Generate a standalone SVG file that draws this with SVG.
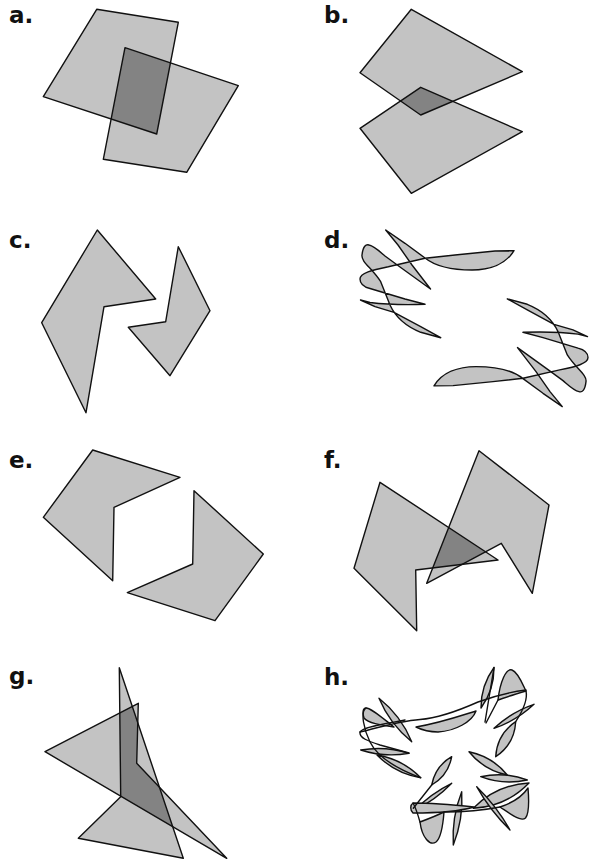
<svg xmlns="http://www.w3.org/2000/svg" xmlns:xlink="http://www.w3.org/1999/xlink" width="589" height="861" viewBox="0 0 589 861">
<style>
.f{fill:#c3c3c3;stroke:none}
.o{fill:#838383;stroke:none}
.n{fill:none;stroke:#111;stroke-width:1.4;stroke-linejoin:round;stroke-linecap:round}
.s{fill:#c3c3c3;stroke:#111;stroke-width:1.4;stroke-linejoin:round}
.l{font-family:"DejaVu Sans","Liberation Sans",sans-serif;font-weight:bold;font-size:23px;fill:#111}
</style>
<defs>
<polygon id="a1" points="96.7,9.3 178.3,22.3 156.7,134 43.3,96.7"/>
<polygon id="a2" points="125,47.7 238.3,85.7 186.7,172.3 103.3,159.3"/>
<polygon id="b1" points="411.3,9.3 522.3,71.7 420.7,115 360,72.7"/>
<polygon id="b2" points="420.7,87.3 522.3,131.7 411.3,193.3 360,128.3"/>
<polygon id="f1" points="380,482.3 498,560 415.7,570 416.7,630.7 354,568.3"/>
<polygon id="f2" points="479,450.7 549,505 532.3,593.3 501.3,543.3 426.7,583.3"/>
<polygon id="g1" points="119.3,667.7 183.3,858.3 78.3,838.3 120.7,796.7"/>
<polygon id="g2" points="138.3,703.3 45,751.7 226.7,858.3 136.7,763.3"/>
<clipPath id="ca"><use xlink:href="#a1"/></clipPath>
<clipPath id="cb"><use xlink:href="#b1"/></clipPath>
<clipPath id="cf"><use xlink:href="#f1"/></clipPath>
<clipPath id="cg"><use xlink:href="#g1"/></clipPath>
</defs>
<rect width="589" height="861" fill="#fff"/>

<g id="panel-a">
<use xlink:href="#a1" class="f"/><use xlink:href="#a2" class="f"/>
<use xlink:href="#a2" class="o" clip-path="url(#ca)"/>
<use xlink:href="#a1" class="n"/><use xlink:href="#a2" class="n"/>
<text class="l" x="9" y="23">a.</text>
</g>

<g id="panel-b">
<use xlink:href="#b1" class="f"/><use xlink:href="#b2" class="f"/>
<use xlink:href="#b2" class="o" clip-path="url(#cb)"/>
<use xlink:href="#b1" class="n"/><use xlink:href="#b2" class="n"/>
<text class="l" x="324" y="23">b.</text>
</g>

<g id="panel-c">
<polygon class="s" points="97.3,230 155.7,299 104,306.7 86,412.7 41.7,322.7"/>
<polygon class="s" points="178.3,246.7 210,310.7 170,375.7 128.3,327.3 165.7,321.7"/>
<text class="l" x="9" y="248">c.</text>
</g>

<g id="panel-d">
<path id="dc" class="s" fill-rule="nonzero" d="M514,250.7 L495,251 L455,255 L425,258.3 L388.3,266.7 C372,270 360,273 360,279 C360,284 364,287 370,288.5 L405,299 L425,304.3 C405,305 382,304 370,302.5 L360.5,300 L375,306.7 L394,312.3 L420.7,326.7 L440.7,337.7 L420.7,332.3 C405,326 396,318 390,305 L380.7,281.7 C372,268 361,262 362,255 C363,246 366,244 369,245 C374,246 378,250 385,256 L400,267 L430.5,289 L412,265 L398,245 L385.7,230 L405,243.3 L425,258 C435,266 450,270 472,270 C490,270 506,264 514,250.7 Z"/>
<use xlink:href="#dc" transform="rotate(180 474 318.3)"/>
<text class="l" x="324" y="248">d.</text>
</g>

<g id="panel-e">
<polygon class="s" points="92.7,450 180,477.3 114,507.3 112.7,580.7 43.3,517.3"/>
<polygon class="s" points="194,490.7 263.3,554 215,620.7 127.3,592.7 192.7,564"/>
<text class="l" x="9" y="468">e.</text>
</g>

<g id="panel-f">
<use xlink:href="#f1" class="f"/><use xlink:href="#f2" class="f"/>
<use xlink:href="#f2" class="o" clip-path="url(#cf)"/>
<use xlink:href="#f1" class="n"/><use xlink:href="#f2" class="n"/>
<text class="l" x="324" y="468">f.</text>
</g>

<g id="panel-g">
<use xlink:href="#g1" class="f"/><use xlink:href="#g2" class="f"/>
<use xlink:href="#g2" class="o" clip-path="url(#cg)"/>
<use xlink:href="#g1" class="n"/><use xlink:href="#g2" class="n"/>
<text class="l" x="9" y="684">g.</text>
</g>

<g id="panel-h">
<path class="s" d="M379,698.3 Q389.8,724.2 411.7,741.7 Q401,715.8 379,698.3Z"/>
<path class="s" d="M366,708 C371,708 380,716 394,727 C380,725 368,723 364,718 C362,713 363,708 366,708 Z"/>
<path class="s" d="M360.7,750 Q384.5,757.7 409,753.3 Q385.3,745.7 360.7,750Z"/>
<path class="s" d="M377,755 Q395.2,773.5 420.7,777.7 Q402.6,759.3 377,755Z"/>
<path class="s" d="M416,727 C440,723 460,716 476,711 C472,722 455,731 438,732 C428,732 420,729 416,727 Z"/>
<path class="s" d="M494,667.5 Q480.8,685.6 481,708 Q494.2,689.9 494,667.5Z"/>
<path class="s" d="M498,700 C500,682 506,668 512,670 C518,672 523,685 526,691 C516,694 506,697 498,700 Z"/>
<path class="s" d="M494,728.3 Q516.6,720.6 534,704.3 Q511.4,712 494,728.3Z"/>
<path class="s" d="M495.7,756.7 Q514.4,744.2 515.7,721.7 Q497,734.2 495.7,756.7Z"/>
<path class="s" d="M469,751.7 Q484,770.2 507.3,775 Q492.4,756.6 469,751.7Z"/>
<path class="s" d="M480.7,776.7 Q503.5,785.4 527.3,780 Q504.5,771.4 480.7,776.7Z"/>
<path class="s" d="M473.3,808.3 Q506.2,806.6 529,783 Q496.2,784.8 473.3,808.3Z"/>
<path class="s" d="M476.7,786.7 Q490.2,810.8 510,830 Q496.5,805.9 476.7,786.7Z"/>
<path class="s" d="M500,807 C512,815 521,822 525.5,818 C529.5,813 529,800 528,788 C522,797 512,803 500,807 Z"/>
<path class="s" d="M451.7,756.7 Q435.2,766.2 431.7,785 Q448.2,775.5 451.7,756.7Z"/>
<path class="s" d="M451.7,783.3 Q431,793.4 415,810 Q435.7,799.9 451.7,783.3Z"/>
<path class="s" d="M461.7,791.7 Q451.6,817.4 453.3,845 Q463.4,819.3 461.7,791.7Z"/>
<path class="s" d="M420,822 C422,838 430,846 436,842 C441,838 443,825 444,812 C436,816 428,819 420,822 Z"/>
<path class="s" d="M413,803 C435,803 455,805 474,807 C460,811 440,813 413,813 C410,810 410,805 413,803 Z"/>
<path class="n" d="M360,732 C380,727 400,721 420,719.5 C440,718 460,710 478,702 C494,696 510,692 526,690"/>
<path class="n" d="M420.7,777.7 C400,770 378,758 370,742 C364,730 360,712 366,708"/>
<path class="n" d="M405,720 C385,724 362,727 360,732 C359,738 368,741 380,745 L409,753"/>
<path class="n" d="M494,667.5 L485,722"/>
<path class="n" d="M498,700 L486,723"/>
<path class="n" d="M526,691 C528,700 522,712 515.7,721.7"/>
<path class="n" d="M431.7,785 L413.3,808.3"/>
<path class="n" d="M420,822 C418,815 416,808 413,803"/>
<path class="n" d="M444,812 C460,812 485,810 500,807"/>
<text class="l" x="324" y="685">h.</text>
</g>
</svg>
